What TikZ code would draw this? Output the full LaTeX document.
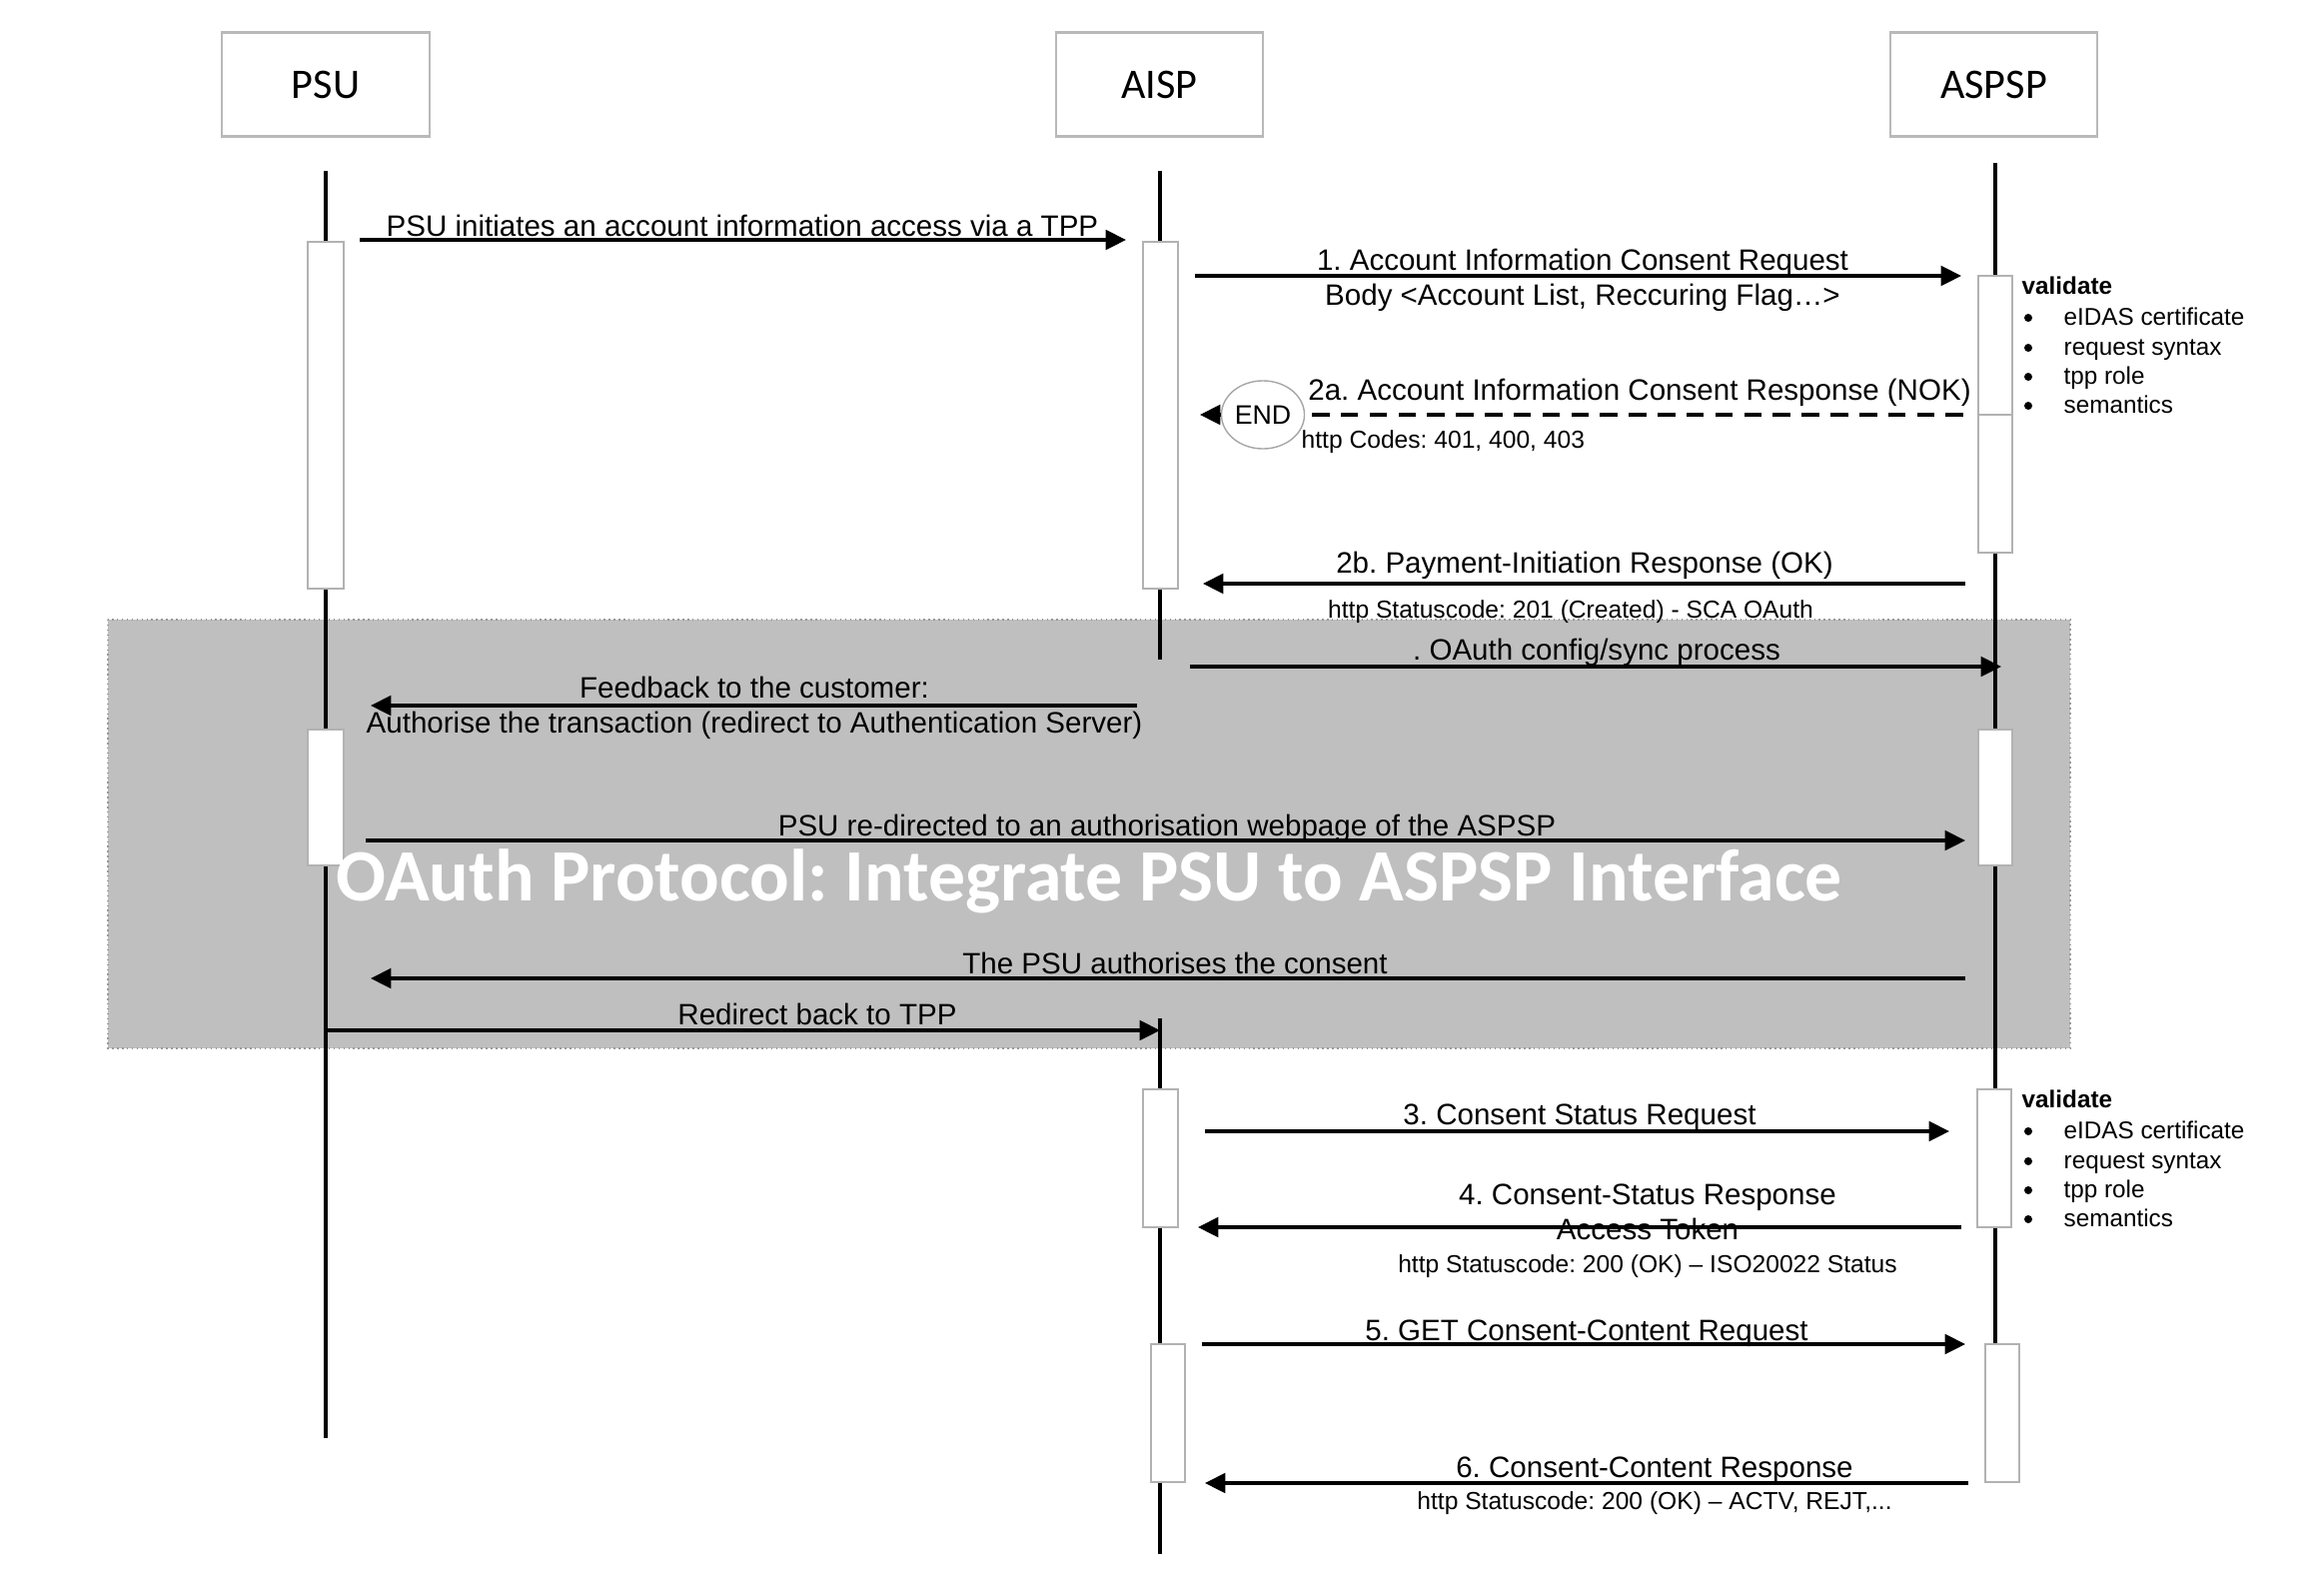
\documentclass[tikz,border=0pt]{standalone}
\usepackage{fontspec}
\setmainfont{Liberation Sans}
\newfontfamily\calibrifont{Carlito}
\usetikzlibrary{arrows.meta, shapes.geometric}

\definecolor{bandgray}{RGB}{191,191,191}

\begin{document}
\frenchspacing
\begin{tikzpicture}[
    x=0.01cm, y=-0.01cm,
    actor/.style={draw=gray!55, line width=0.6pt, rectangle, fill=white,
        minimum width=2.07cm, minimum height=1.04cm, font=\calibrifont\fontsize{12}{14}\selectfont},
    lifeline/.style={line width=1.3pt},
    actbox/.style={draw=gray!60, line width=0.5pt, fill=white},
    msg/.style={line width=0.9pt, -{Triangle[length=5.8pt,width=5.6pt]}},
    nok/.style={line width=0.9pt, dash pattern=on 5pt off 3.2pt},
    lbl/.style={inner sep=0pt, anchor=base, font=\fontsize{8.4}{10}\selectfont},
    small/.style={inner sep=0pt, anchor=base, font=\fontsize{7}{8.4}\selectfont},
    check/.style={inner sep=0pt, anchor=base west, font=\fontsize{6.9}{8}\selectfont},
    dot/.style={circle, fill, inner sep=0pt, minimum size=0.08cm},
    endmark/.style={draw=gray!70, ellipse, fill=white, inner sep=0pt,
        minimum width=0.83cm, minimum height=0.68cm, font=\fontsize{7.6}{9}\selectfont}
]
\useasboundingbox (0,0) rectangle (2326,1578);

% ============================================================
% OAUTH BAND (grey zone behind the redirect steps)
% ============================================================
\draw[bandgray!80!black, densely dotted, fill=bandgray] (108,620) rectangle (2072,1049);

% ============================================================
% ACTORS
% Lifelines: PSU x=326, AISP x=1161, ASPSP x=1997
% ============================================================
\node[actor] (psu) at (326,84.5) {PSU};
\node[actor] (aisp) at (1160.5,84.5) {AISP};
\node[actor] (aspsp) at (1995.5,84.5) {ASPSP};

\coordinate (psuTop) at (326,171);
\coordinate (psuEnd) at (326,1439);
\coordinate (aispTop) at (1161,171);
\coordinate (aispCut) at (1161,660);
\coordinate (aispBack) at (1161,1019);
\coordinate (aispEnd) at (1161,1555);
\coordinate (aspspTop) at (1997,163);
\coordinate (aspspEnd) at (1997,1345);

\draw[lifeline] (psuTop) -- (psuEnd);
\draw[lifeline] (aispTop) -- (aispCut);
\draw[lifeline] (aispBack) -- (aispEnd);
\draw[lifeline] (aspspTop) -- (aspspEnd);

% ============================================================
% ACTIVATION BARS
% ============================================================
\draw[actbox] (308,242) rectangle (344,589);
\draw[actbox] (1144,242) rectangle (1179,589);
\draw[actbox] (1980,276) rectangle (2014,553);
\draw[actbox] (1980,415) -- (2014,415);

\draw[actbox] (308,730) rectangle (344,866);
\draw[actbox] (1980,730) rectangle (2014,866);

\draw[actbox] (1144,1090) rectangle (1179,1228);
\draw[actbox] (1979,1090) rectangle (2013,1228);

\draw[actbox] (1152,1345) rectangle (1186,1483);
\draw[actbox] (1987,1345) rectangle (2021,1483);

% ============================================================
% CONSENT REQUEST PHASE
% ============================================================

% PSU -> AISP
\coordinate (startA) at (360,240);
\coordinate (startB) at (1127,240);
\draw[msg] (startA) -- (startB);
\node[lbl] (startT) at (743,236) {PSU initiates an account information access via a TPP};

% 1. AISP -> ASPSP
\coordinate (reqA) at (1196,276);
\coordinate (reqB) at (1963,276);
\draw[msg] (reqA) -- (reqB);
\node[lbl] (reqT) at (1584,270) {1. Account Information Consent Request};
\node[lbl] (reqBody) at (1584,305) {Body <Account List, Reccuring Flag…>};

% validate (first check)
\node[check, font=\bfseries\fontsize{6.9}{8}\selectfont] (valA) at (2023,294) {validate};
\foreach \yy/\txt [count=\i] in {325/eIDAS certificate, 355/request syntax, 384/tpp role, 413/semantics} {
    \node[dot] (valAdot\i) at (2030,\yy-7) {};
    \node[check] (valAitem\i) at (2065,\yy) {\txt};
}

% 2a. ASPSP -> AISP (NOK, ends the flow)
\coordinate (nokA) at (1965,415);
\coordinate (nokB) at (1201,415);
\node[endmark] (stop) at (1264,415) {END};
\draw[nok] (nokA) -- (stop.east);
\draw[msg] (stop.west) -- (nokB);
\node[lbl] (nokT) at (1641,400) {2a. Account Information Consent Response (NOK)};
\node[small, anchor=base west] (nokCodes) at (1302,448) {http Codes: 401, 400, 403};

% 2b. ASPSP -> AISP (OK)
\coordinate (okA) at (1967,584);
\coordinate (okB) at (1204,584);
\draw[msg] (okA) -- (okB);
\node[lbl] (okT) at (1586,573) {2b. Payment-Initiation Response (OK)};
\node[small] (okCode) at (1572,618) {http Statuscode: 201 (Created) - SCA OAuth};

% ============================================================
% OAUTH REDIRECT PHASE
% ============================================================

% config/sync
\coordinate (syncA) at (1191,667);
\coordinate (syncB) at (2003,667);
\draw[msg] (syncA) -- (syncB);
\node[lbl] (syncT) at (1598,660) {. OAuth config/sync process};

% feedback to PSU
\coordinate (fbA) at (1138,706);
\coordinate (fbB) at (371,706);
\draw[msg] (fbA) -- (fbB);
\node[lbl] (fbT) at (755,698) {Feedback to the customer:};
\node[lbl] (fbT2) at (755,733) {Authorise the transaction (redirect to Authentication Server)};

% PSU -> ASPSP web page
\coordinate (webA) at (366,841);
\coordinate (webB) at (1967,841);
\draw[msg] (webA) -- (webB);
\node[lbl] (webT) at (1168,836) {PSU re-directed to an authorisation webpage of the ASPSP};

% zone title
\node[inner sep=0pt, anchor=base, white, font=\calibrifont\bfseries\fontsize{21}{25}\selectfont] (zoneT) at (1090,901)
    {OAuth Protocol: Integrate PSU to ASPSP Interface};

% consent given
\coordinate (authA) at (1967,979);
\coordinate (authB) at (371,979);
\draw[msg] (authA) -- (authB);
\node[lbl] (authT) at (1176,974) {The PSU authorises the consent};

% back to TPP
\draw[msg] (psuTop |- 0,1031) coordinate (backA) -- (aispBack |- 0,1031) coordinate (backB);
\node[lbl] (backT) at (818,1025) {Redirect back to TPP};

% ============================================================
% CONSENT STATUS / CONTENT PHASE
% ============================================================

% 3. status request
\coordinate (stA) at (1206,1132);
\coordinate (stB) at (1951,1132);
\draw[msg] (stA) -- (stB);
\node[lbl] (stT) at (1581,1125) {3. Consent Status Request};

% validate (second check)
\node[check, font=\bfseries\fontsize{6.9}{8}\selectfont] (valB) at (2023,1108) {validate};
\foreach \yy/\txt [count=\i] in {1139/eIDAS certificate, 1169/request syntax, 1198/tpp role, 1227/semantics} {
    \node[dot] (valBdot\i) at (2030,\yy-7) {};
    \node[check] (valBitem\i) at (2065,\yy) {\txt};
}

% 4. status response
\coordinate (srA) at (1963,1228);
\coordinate (srB) at (1199,1228);
\draw[msg] (srA) -- (srB);
\node[lbl] (srT) at (1649,1205) {4. Consent-Status Response};
\node[lbl] (srTok) at (1649,1240) {Access Token};
\node[small] (srCode) at (1649,1273) {http Statuscode: 200 (OK) – ISO20022 Status};

% 5. content request
\coordinate (ctA) at (1203,1345);
\coordinate (ctB) at (1967,1345);
\draw[msg] (ctA) -- (ctB);
\node[lbl] (ctT) at (1588,1341) {5. GET Consent-Content Request};

% 6. content response
\coordinate (crA) at (1970,1484);
\coordinate (crB) at (1206,1484);
\draw[msg] (crA) -- (crB);
\node[lbl] (crT) at (1656,1478) {6. Consent-Content Response};
\node[small] (crCode) at (1656,1510) {http Statuscode: 200 (OK) – ACTV, REJT,...};

\end{tikzpicture}
\end{document}
